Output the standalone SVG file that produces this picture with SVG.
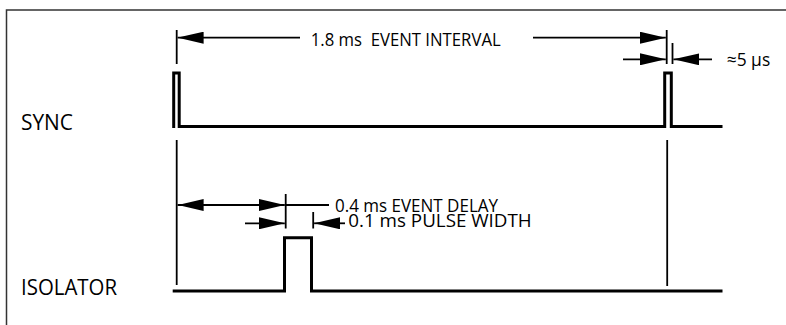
<svg xmlns="http://www.w3.org/2000/svg" width="786" height="325" viewBox="0 0 786 325">
<style>
.frame{fill:none;stroke:#333;stroke-width:1.5}
.sig{fill:none;stroke:#000;stroke-width:3;stroke-linejoin:miter}
.thin{fill:none;stroke:#000;stroke-width:1.8}
.lbl{font-family:"Open Sans","Liberation Sans",sans-serif;font-size:22px;fill:#000}
.ann{font-family:"Open Sans","Liberation Sans",sans-serif;font-size:18px;fill:#000}
</style>
<defs>
<marker id="ah" markerUnits="userSpaceOnUse" markerWidth="26" markerHeight="12" refX="26" refY="6" orient="auto">
<path d="M0,0 L26,6 L0,12 Z" fill="#000"/>
</marker>
</defs>
<rect width="786" height="325" fill="#fff"/>
<path class="frame" d="M6.5,340 V10 H800"/>

<g id="sync">
<text class="lbl" x="21" y="130" textLength="52" lengthAdjust="spacingAndGlyphs">SYNC</text>
<path class="sig" d="M173.7,128 V73 H179.2 V126.5 H664.7 V73 H671.3 V126.5 H722.5"/>
</g>

<g id="isolator">
<text class="lbl" x="21" y="295" textLength="96" lengthAdjust="spacingAndGlyphs">ISOLATOR</text>
<path class="sig" d="M172.7,291 H284.5 V237.7 H311.5 V291 H722.5"/>
</g>

<g id="connectors">
<line class="thin" x1="176.7" y1="30" x2="176.7" y2="64"/>
<line class="thin" x1="666.7" y1="30" x2="666.7" y2="64"/>
<line class="thin" x1="672.5" y1="43" x2="672.5" y2="64"/>
<line class="thin" x1="176.7" y1="140" x2="176.7" y2="285"/>
<line class="thin" x1="667.2" y1="140" x2="667.2" y2="286"/>
<line class="thin" x1="285.7" y1="194" x2="285.7" y2="228.5"/>
<line class="thin" x1="313.2" y1="212" x2="313.2" y2="228.5"/>
<line class="thin" x1="300" y1="37.7" x2="177.6" y2="37.7" marker-end="url(#ah)"/>
<line class="thin" x1="533" y1="37.7" x2="665.8" y2="37.7" marker-end="url(#ah)"/>
<line class="thin" x1="623" y1="59.3" x2="665.8" y2="59.3" marker-end="url(#ah)"/>
<line class="thin" x1="712" y1="59.3" x2="673.4" y2="59.3" marker-end="url(#ah)"/>
<line class="thin" x1="230" y1="205" x2="177.6" y2="205" marker-end="url(#ah)"/>
<line class="thin" x1="230" y1="205" x2="284.8" y2="205" marker-end="url(#ah)"/>
<line class="thin" x1="285.7" y1="205" x2="329" y2="205"/>
<line class="thin" x1="245" y1="223.3" x2="284.8" y2="223.3" marker-end="url(#ah)"/>
<line class="thin" x1="345" y1="223.3" x2="314.1" y2="223.3" marker-end="url(#ah)"/>
</g>

<g id="labels">
<text class="ann" x="310.7" y="46" textLength="190" lengthAdjust="spacingAndGlyphs" xml:space="preserve">1.8 ms  EVENT INTERVAL</text>
<text class="ann" x="726.7" y="65.7" textLength="43.5" lengthAdjust="spacingAndGlyphs">≈5 µs</text>
<text class="ann" x="335" y="211.5" textLength="163" lengthAdjust="spacingAndGlyphs">0.4 ms EVENT DELAY</text>
<text class="ann" x="348.3" y="227" textLength="183.4" lengthAdjust="spacingAndGlyphs">0.1 ms PULSE WIDTH</text>
</g>
</svg>
